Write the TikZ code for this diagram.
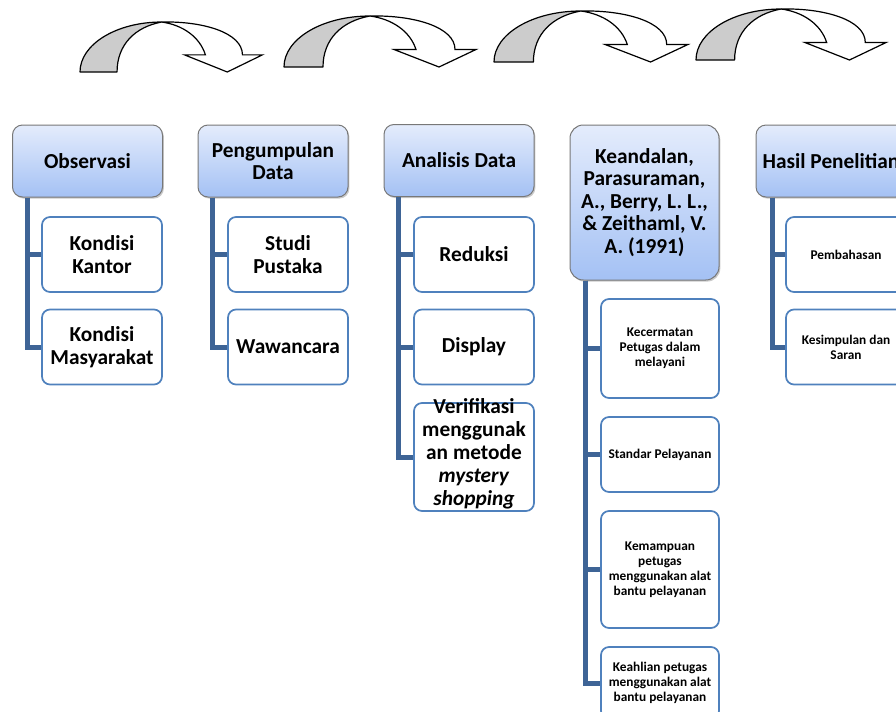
\documentclass[tikz,border=0pt]{standalone}
\usepackage{fontspec}
\setmainfont{Carlito}
\usetikzlibrary{calc,shadows,shadings}
\definecolor{hdtop}{RGB}{228,236,252}
\definecolor{hdbot}{RGB}{164,193,244}
\definecolor{hdrborder}{RGB}{120,120,120}
\definecolor{kidborder}{RGB}{79,129,189}
\definecolor{connc}{RGB}{62,100,150}
\definecolor{arrfill}{RGB}{204,204,204}
\newcommand\hdrfont{\fontsize{16}{16.8}\selectfont\bfseries}
\newcommand\kidsmall{\fontsize{10}{11.25}\selectfont\bfseries}
\tikzset{
  hdr/.style={draw=hdrborder, line width=0.75pt, rounded corners=7.5pt,
    top color=hdtop, bottom color=hdbot, minimum width=112.5pt, minimum height=54pt,
    align=center, font=\hdrfont, inner sep=2pt,
    drop shadow={shadow xshift=1pt, shadow yshift=-1.2pt, opacity=0.35, fill=black!60}},
  kid/.style={draw=kidborder, line width=1.3pt, fill=white, rounded corners=6pt,
    minimum width=90pt, minimum height=56.25pt, align=center, font=\hdrfont, inner sep=2pt},
  smallkid/.style={kid, minimum width=88.5pt, font=\kidsmall},
  conn/.style={draw=connc, line width=3.75pt},
  arrgray/.style={draw=black, line width=0.9pt, fill=arrfill, line join=round},
  arrwhite/.style={draw=black, line width=0.9pt, fill=white, line join=miter},
}
\newcommand\curvedarrow[4]{%
  \begin{scope}[shift={(#1,#2)}, xscale=#3, yscale=#4]
    \path[arrgray] (0,0) .. controls (0,-28) and (38,-51) .. (86,-51)
      .. controls (58,-46) and (39,-28) .. (39,0) -- cycle;
    \path[arrwhite] (86,-51) .. controls (130,-52) and (171,-40) .. (171,-17.5)
      -- (192,-17.5) -- (155,0) -- (110,-17.5) -- (132,-17.5)
      .. controls (126,-36) and (108,-48) .. (86,-51) -- cycle;
  \end{scope}}
\begin{document}
\begin{tikzpicture}[x=0.75pt, y=-0.75pt]
\useasboundingbox (0,0) rectangle (896,711);
% curved arrows
\curvedarrow{80}{72}{0.95}{0.98}
\curvedarrow{284}{67}{1}{1}
\curvedarrow{494}{62}{1.01}{1}
\curvedarrow{696}{60}{0.99}{1}
% headers
\node[hdr] (obs) at (87.5,161) {Observasi};
\node[hdr] (pd) at (273,161) {Pengumpulan\\Data};
\node[hdr] (ad) at (459,160.5) {Analisis Data};
\node[hdr, minimum width=111.75pt, minimum height=116.25pt, rounded corners=10pt] (kd) at (644.5,202.5)
  {Keandalan,\\Parasuraman,\\A., Berry, L. L.,\\\& Zeithaml, V.\\A. (1991)};
\node[hdr] (hp) at (831,161) {Hasil Penelitian};
% children nodes (positions)
\path
  (102,254.5) node[kid] (ok1) {Kondisi\\Kantor}
  (102,347)   node[kid] (ok2) {Kondisi\\Masyarakat}
  (288,254.5) node[kid] (pc1) {Studi\\Pustaka}
  (288,347)   node[kid] (pc2) {Wawancara}
  (474,254.5) node[kid] (ac1) {Reduksi}
  (474,347)   node[kid] (ac2) {Display}
  (474,457)   node[kid, minimum height=81pt] (ac3) {}
  (660,348.5) node[smallkid, minimum height=74.25pt] (kc1) {Kecermatan\\Petugas dalam\\melayani}
  (660,454.5) node[smallkid] (kc2) {Standar Pelayanan}
  (660,569.5) node[smallkid, minimum height=87.75pt] (kc3) {Kemampuan\\petugas\\menggunakan alat\\bantu pelayanan}
  (660,683)   node[smallkid, minimum height=54pt] (kc4) {Keahlian petugas\\menggunakan alat\\bantu pelayanan}
  (846,254.5) node[smallkid, minimum width=90pt] (hc1) {Pembahasan}
  (846,347)   node[smallkid, minimum width=90pt] (hc2) {Kesimpulan dan\\Saran};
% connectors
\draw[conn] ($(obs.south west)+(15,0)$) |- (ok2.west);
\draw[conn] ($(obs.south west)+(15,0)$) |- (ok1.west);
\draw[conn] ($(pd.south west)+(15,0)$) |- (pc2.west);
\draw[conn] ($(pd.south west)+(15,0)$) |- (pc1.west);
\draw[conn] ($(ad.south west)+(15,0)$) |- (ac3.west);
\draw[conn] ($(ad.south west)+(15,0)$) |- (ac2.west);
\draw[conn] ($(ad.south west)+(15,0)$) |- (ac1.west);
\draw[conn] ($(kd.south west)+(16,0)$) |- (kc4.west);
\draw[conn] ($(kd.south west)+(16,0)$) |- (kc3.west);
\draw[conn] ($(kd.south west)+(16,0)$) |- (kc2.west);
\draw[conn] ($(kd.south west)+(16,0)$) |- (kc1.west);
\draw[conn] ($(hp.south west)+(17,0)$) |- (hc2.west);
\draw[conn] ($(hp.south west)+(17,0)$) |- (hc1.west);
% overflowing text of the verification box
\node[align=center, font=\fontsize{16}{17.3}\selectfont\bfseries, inner sep=0pt] (ac3t) at ($(ac3.center)+(0,-3)$)
  {Verifikasi\\menggunak\\an metode\\\textit{mystery}\\\textit{shopping}};
\end{tikzpicture}
\end{document}
